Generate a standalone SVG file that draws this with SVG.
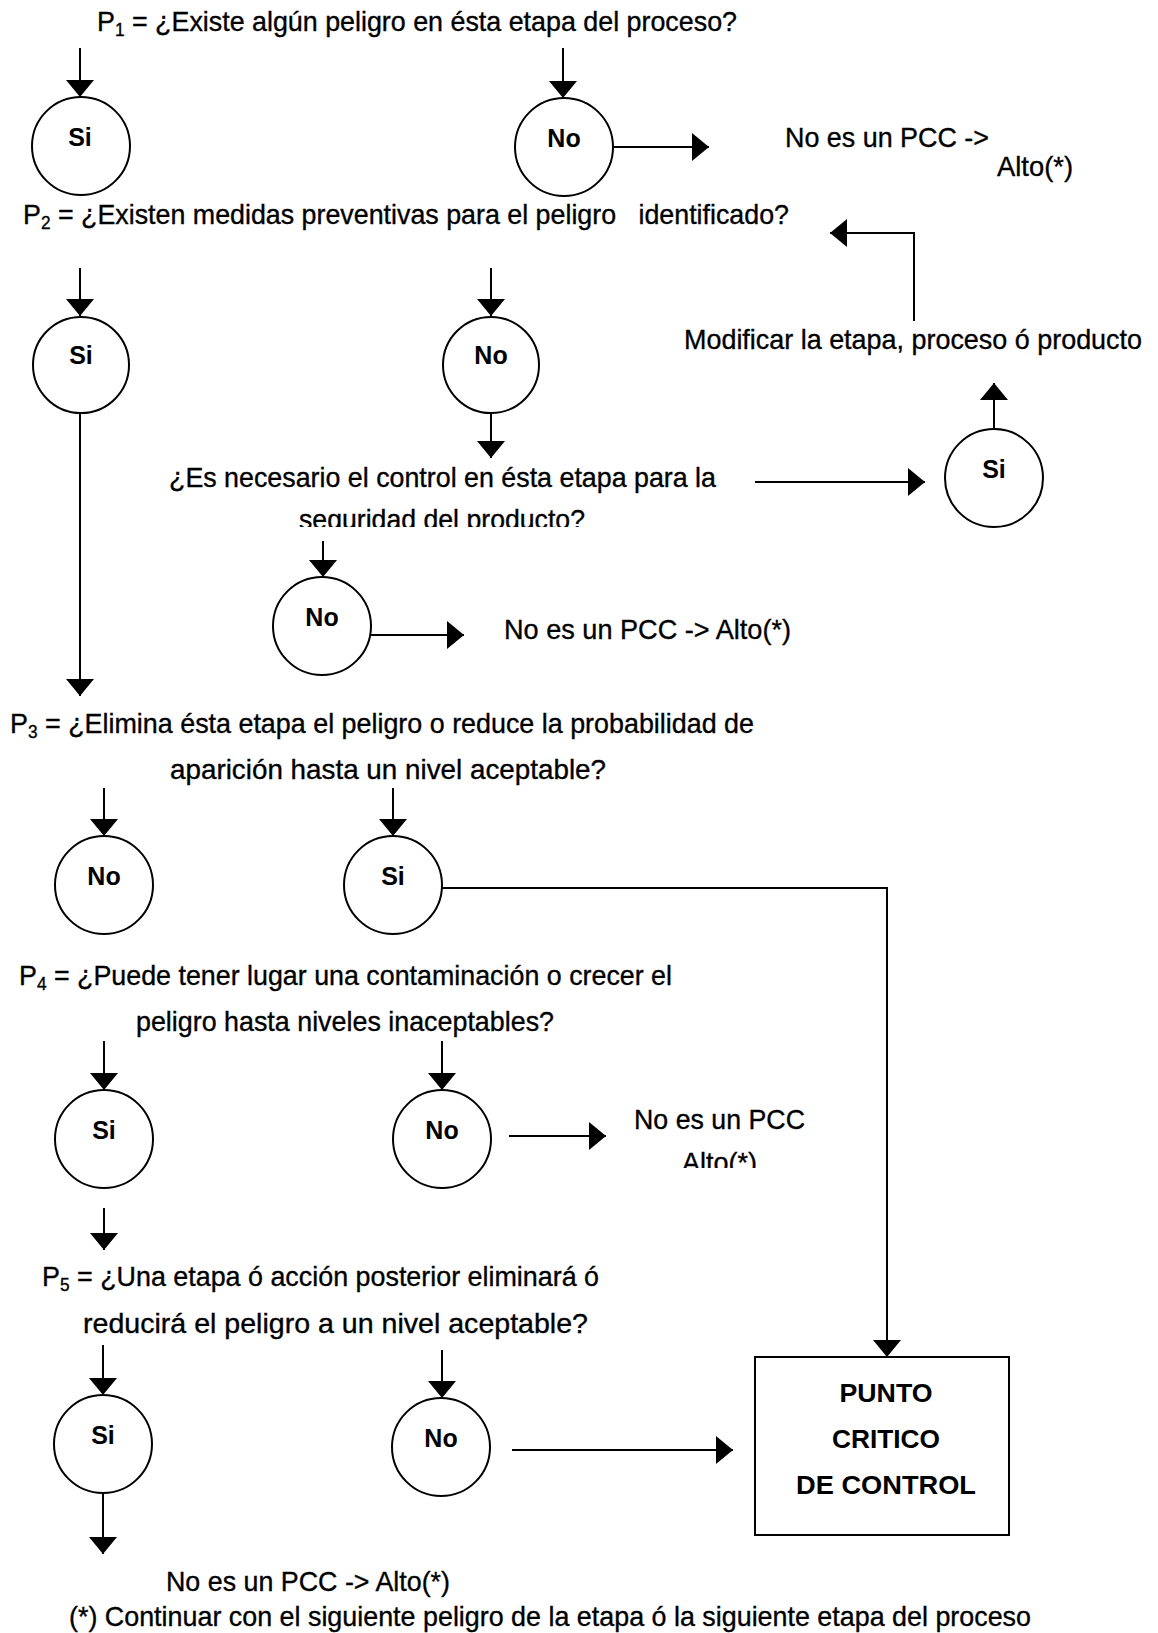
<svg xmlns="http://www.w3.org/2000/svg" width="1158" height="1633" viewBox="0 0 1158 1633">
  <style>
    .t { font-family: "Liberation Sans", Arial, sans-serif; font-size: 28px; fill: #000; stroke: #000; stroke-width: 0.35; }
    .b { font-family: "Liberation Sans", Arial, sans-serif; font-size: 25px; font-weight: bold; fill: #000; text-anchor: middle; }
    .c { fill: #fff; stroke: #000; stroke-width: 2; }
    .ln { fill: none; stroke: #000; stroke-width: 2; }
    .sub { font-size: 18px; }
  </style>
  <defs>
    <marker id="arr" markerUnits="userSpaceOnUse" markerWidth="18" markerHeight="28" refX="17" refY="14" orient="auto">
      <path d="M0,0 L17,14 L0,28 z" fill="#000"/>
    </marker>
    <clipPath id="clipSeg"><rect x="0" y="490" width="1158" height="37"/></clipPath>
    <clipPath id="clipAlto"><rect x="0" y="1140" width="1158" height="28"/></clipPath>
  </defs>

  <rect width="1158" height="1633" fill="#fff"/>

  <!-- connectors -->
  <g id="connectors" class="ln" marker-end="url(#arr)">
    <line x1="80" y1="48" x2="80" y2="97"/>
    <line x1="563" y1="48" x2="563" y2="98"/>
    <line x1="613" y1="147" x2="709" y2="147"/>
    <line x1="80" y1="268" x2="80" y2="316"/>
    <line x1="491" y1="268" x2="491" y2="316"/>
    <line x1="491" y1="414" x2="491" y2="458"/>
    <line x1="755" y1="482" x2="925" y2="482"/>
    <line x1="994" y1="429" x2="994" y2="383"/>
    <polyline points="914,321 914,233 830,233"/>
    <line x1="323" y1="541" x2="323" y2="577"/>
    <line x1="371" y1="635" x2="464" y2="635"/>
    <line x1="80" y1="414" x2="80" y2="696"/>
    <line x1="104" y1="788" x2="104" y2="836"/>
    <line x1="393" y1="788" x2="393" y2="836"/>
    <polyline points="442,888 887,888 887,1357"/>
    <line x1="104" y1="1041" x2="104" y2="1090"/>
    <line x1="442" y1="1041" x2="442" y2="1090"/>
    <line x1="509" y1="1136" x2="606" y2="1136"/>
    <line x1="104" y1="1208" x2="104" y2="1250"/>
    <line x1="103" y1="1345" x2="103" y2="1395"/>
    <line x1="442" y1="1350" x2="442" y2="1398"/>
    <line x1="512" y1="1450" x2="733" y2="1450"/>
    <line x1="103" y1="1493" x2="103" y2="1554"/>
  </g>

  <!-- question texts -->
  <g id="questions">
    <text class="t" x="97" y="31" textLength="640" lengthAdjust="spacingAndGlyphs">P<tspan class="sub" dy="5">1</tspan><tspan dy="-5"> = ¿Existe algún peligro en ésta etapa del proceso?</tspan></text>
    <text class="t" x="23" y="224" textLength="766" lengthAdjust="spacingAndGlyphs" xml:space="preserve">P<tspan class="sub" dy="5">2</tspan><tspan dy="-5"> = ¿Existen medidas preventivas para el peligro   identificado?</tspan></text>
    <text class="t" x="169" y="487" textLength="547" lengthAdjust="spacingAndGlyphs">¿Es necesario el control en ésta etapa para la</text>
    <text class="t" x="299" y="529" textLength="286" lengthAdjust="spacingAndGlyphs" clip-path="url(#clipSeg)">seguridad del producto?</text>
    <text class="t" x="10" y="733" textLength="744" lengthAdjust="spacingAndGlyphs">P<tspan class="sub" dy="5">3</tspan><tspan dy="-5"> = ¿Elimina ésta etapa el peligro o reduce la probabilidad de</tspan></text>
    <text class="t" x="170" y="779" textLength="436" lengthAdjust="spacingAndGlyphs">aparición hasta un nivel aceptable?</text>
    <text class="t" x="19" y="985" textLength="653" lengthAdjust="spacingAndGlyphs">P<tspan class="sub" dy="5">4</tspan><tspan dy="-5"> = ¿Puede tener lugar una contaminación o crecer el</tspan></text>
    <text class="t" x="136" y="1031" textLength="418" lengthAdjust="spacingAndGlyphs">peligro hasta niveles inaceptables?</text>
    <text class="t" x="42" y="1286" textLength="557" lengthAdjust="spacingAndGlyphs">P<tspan class="sub" dy="5">5</tspan><tspan dy="-5"> = ¿Una etapa ó acción posterior eliminará ó</tspan></text>
    <text class="t" x="83" y="1333" textLength="505" lengthAdjust="spacingAndGlyphs">reducirá el peligro a un nivel aceptable?</text>
  </g>

  <!-- outcome texts -->
  <g id="outcomes">
    <text class="t" x="785" y="147" textLength="204" lengthAdjust="spacingAndGlyphs">No es un PCC -&gt;</text>
    <text class="t" x="997" y="176" textLength="76" lengthAdjust="spacingAndGlyphs">Alto(*)</text>
    <text class="t" x="684" y="349" textLength="458" lengthAdjust="spacingAndGlyphs">Modificar la etapa, proceso ó producto</text>
    <text class="t" x="504" y="639" textLength="287" lengthAdjust="spacingAndGlyphs">No es un PCC -&gt; Alto(*)</text>
    <text class="t" x="634" y="1129" textLength="171" lengthAdjust="spacingAndGlyphs">No es un PCC</text>
    <text class="t" x="682" y="1172" textLength="75" lengthAdjust="spacingAndGlyphs" clip-path="url(#clipAlto)">Alto(*)</text>
    <text class="t" x="166" y="1591" textLength="284" lengthAdjust="spacingAndGlyphs">No es un PCC -&gt; Alto(*)</text>
    <text class="t" x="69" y="1626" textLength="962" lengthAdjust="spacingAndGlyphs">(*) Continuar con el siguiente peligro de la etapa ó la siguiente etapa del proceso</text>
  </g>

  <!-- decision nodes -->
  <g id="p1-si"><circle class="c" cx="81" cy="146" r="49"/><text class="b" x="80" y="146">Si</text></g>
  <g id="p1-no"><circle class="c" cx="564" cy="147" r="49"/><text class="b" x="564" y="147">No</text></g>
  <g id="p2-si"><circle class="c" cx="81" cy="365" r="48"/><text class="b" x="81" y="364">Si</text></g>
  <g id="p2-no"><circle class="c" cx="491" cy="365" r="48"/><text class="b" x="491" y="364">No</text></g>
  <g id="ctrl-si"><circle class="c" cx="994" cy="478" r="49"/><text class="b" x="994" y="478">Si</text></g>
  <g id="ctrl-no"><circle class="c" cx="322" cy="626" r="49"/><text class="b" x="322" y="626">No</text></g>
  <g id="p3-no"><circle class="c" cx="104" cy="885" r="49"/><text class="b" x="104" y="885">No</text></g>
  <g id="p3-si"><circle class="c" cx="393" cy="885" r="49"/><text class="b" x="393" y="885">Si</text></g>
  <g id="p4-si"><circle class="c" cx="104" cy="1139" r="49"/><text class="b" x="104" y="1139">Si</text></g>
  <g id="p4-no"><circle class="c" cx="442" cy="1139" r="49"/><text class="b" x="442" y="1139">No</text></g>
  <g id="p5-si"><circle class="c" cx="103" cy="1444" r="49"/><text class="b" x="103" y="1444">Si</text></g>
  <g id="p5-no"><circle class="c" cx="441" cy="1447" r="49"/><text class="b" x="441" y="1447">No</text></g>

  <!-- critical control point box -->
  <g id="pcc">
    <rect class="c" x="755" y="1357" width="254" height="178"/>
    <text class="b" x="886" y="1402" textLength="93" lengthAdjust="spacingAndGlyphs">PUNTO</text>
    <text class="b" x="886" y="1448" textLength="108" lengthAdjust="spacingAndGlyphs">CRITICO</text>
    <text class="b" x="886" y="1494" textLength="180" lengthAdjust="spacingAndGlyphs">DE CONTROL</text>
  </g>
</svg>
